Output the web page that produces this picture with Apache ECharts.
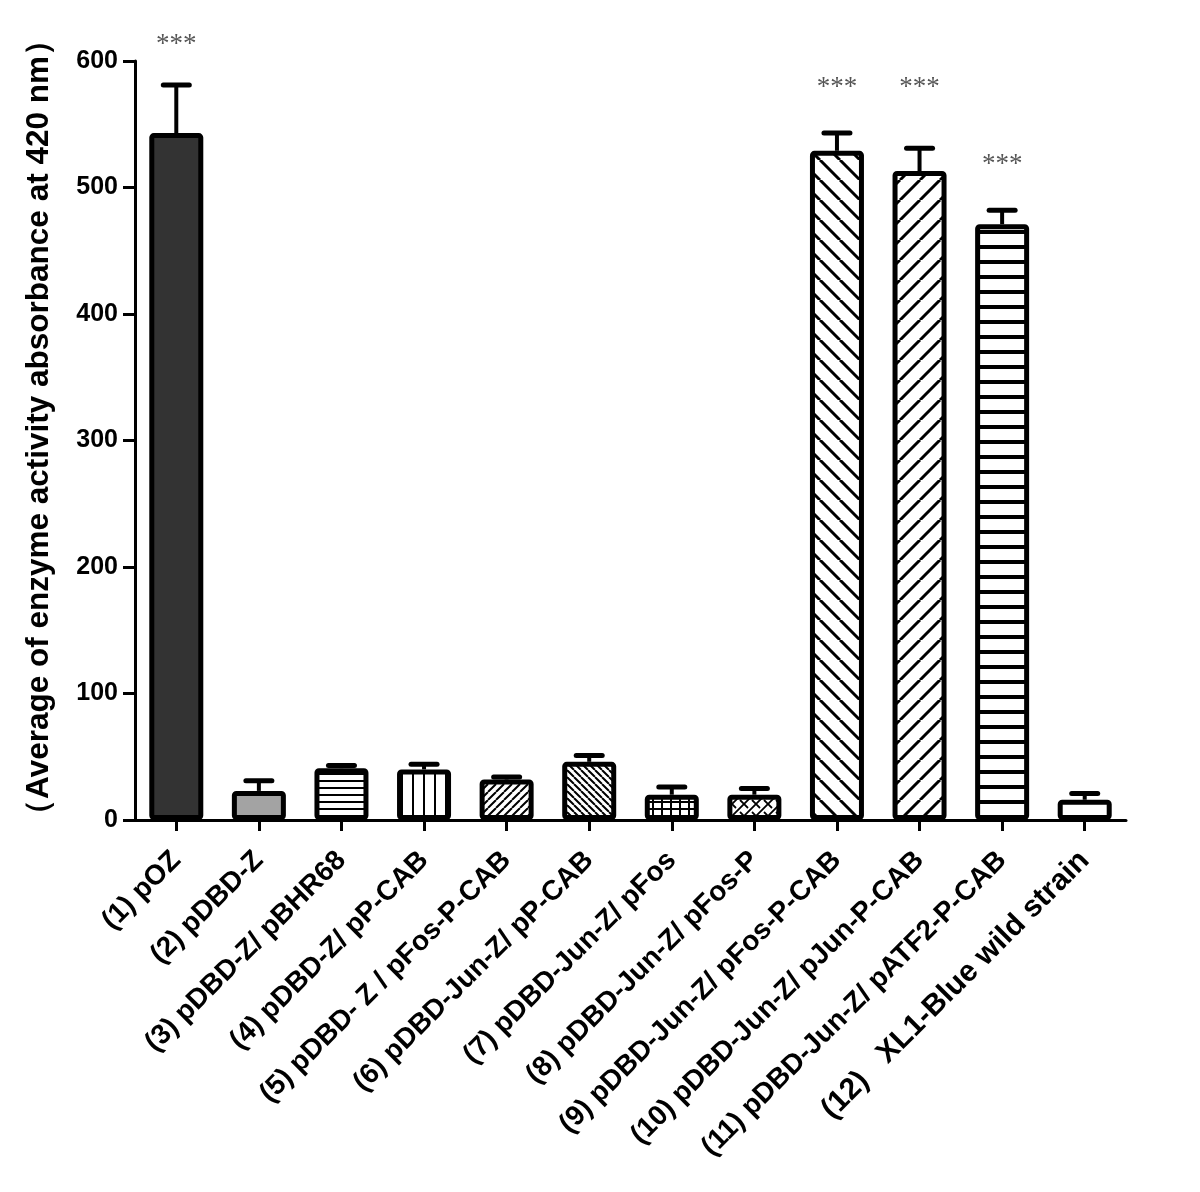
<!DOCTYPE html>
<html><head><meta charset="utf-8">
<script src="https://cdn.jsdelivr.net/npm/echarts@6/dist/echarts.min.js"></script>
<style>html,body{margin:0;padding:0;background:#fff}#c{width:1200px;height:1192px}</style>
</head><body><div id="c"></div>
<script>
const categories = ['(1) pOZ','(2) pDBD-Z','(3) pDBD-Z/ pBHR68','(4) pDBD-Z/ pP-CAB','(5) pDBD- Z / pFos-P-CAB','(6) pDBD-Jun-Z/ pP-CAB','(7) pDBD-Jun-Z/ pFos','(8) pDBD-Jun-Z/ pFos-P','(9) pDBD-Jun-Z/ pFos-P-CAB','(10) pDBD-Jun-Z/ pJun-P-CAB','(11) pDBD-Jun-Z/ pATF2-P-CAB','(12)   XL1-Blue wild strain'];
const means = [543, 23, 41, 40, 32, 46, 20, 20, 529, 513, 471, 16];
const errors = [38, 8, 2, 4, 2, 5, 6, 5, 14, 18, 11, 5];
const sigLabels = ['***','','','','','','','','***','***','***',''];
const sigY = [616, null, null, null, null, null, null, null, 582, 582, 521, null];
const yMin = 0, yMax = 600, yStep = 100;
const yTitle = '（Average of enzyme activity absorbance at 420 nm）';
const fills = ['dark','gray','hthin','vlines','diagUpThin','diagDownThin','grid','brick','diagDownWide','diagUpWide','hthick','white'];

function tile(w, h, draw) {
  const c = document.createElement('canvas');
  c.width = w; c.height = h;
  const g = c.getContext('2d');
  g.fillStyle = '#fff'; g.fillRect(0, 0, w, h);
  g.fillStyle = '#000'; g.strokeStyle = '#000';
  draw(g, w, h);
  return { image: c, repeat: 'repeat' };
}
function diag(up, s, lw) {
  return tile(s, s, (g) => {
    g.lineWidth = lw; g.beginPath();
    for (let k = -1; k <= 1; k++) {
      if (up) { g.moveTo(k * s, s); g.lineTo(k * s + s, 0); }
      else { g.moveTo(k * s, 0); g.lineTo(k * s + s, s); }
    }
    g.stroke();
  });
}
const patterns = {
  dark: '#333333',
  gray: '#a3a3a3',
  white: '#ffffff',
  hthin: tile(8, 7, (g) => g.fillRect(0, 3, 8, 2)),
  vlines: tile(11, 8, (g) => g.fillRect(5, 0, 2, 8)),
  diagUpThin: diag(true, 8, 2),
  diagDownThin: diag(false, 7, 2),
  diagDownWide: diag(false, 20, 3),
  diagUpWide: diag(true, 20, 3),
  hthick: tile(8, 15, (g) => g.fillRect(0, 5, 8, 4)),
  grid: tile(9, 7, (g) => { g.fillRect(4, 0, 2, 7); g.fillRect(0, 3, 9, 2); }),
  brick: tile(12, 12, (g) => {
    g.lineWidth = 1.8; g.beginPath();
    for (let k = -1; k <= 1; k++) { g.moveTo(k * 12, 12); g.lineTo(k * 12 + 12, 0); }
    g.moveTo(0, 0); g.lineTo(4, 4);
    g.moveTo(8, 8); g.lineTo(12, 12);
    g.stroke();
  })
};

const xData = categories.map((c, i) => i === categories.length - 1 ? { value: c, textStyle: { fontSize: 30 } } : c);

const chart = echarts.init(document.getElementById('c'), null, { renderer: 'canvas' });
const option = {
  backgroundColor: '#fff',
  animation: false,
  grid: { left: 135, right: 74, top: 61, bottom: 372, containLabel: false },
  xAxis: {
    type: 'category', data: xData, boundaryGap: true,
    axisLine: { lineStyle: { color: '#000', width: 3 } },
    axisTick: { show: true, alignWithLabel: true, length: 11, lineStyle: { color: '#000', width: 3 } },
    axisLabel: { interval: 0, rotate: 45, margin: 36, color: '#000', fontSize: 28, fontWeight: 'bold', fontFamily: 'Liberation Sans, Arial, sans-serif' }
  },
  yAxis: {
    type: 'value', min: yMin, max: yMax, interval: yStep,
    name: yTitle, nameLocation: 'middle', nameRotate: 90, nameGap: 80,
    nameTextStyle: { fontSize: 31.5, fontWeight: 'bold', color: '#000', padding: [0, 0, 0, 26], fontFamily: 'Liberation Sans Narrow, Arial Narrow, sans-serif' },
    axisLine: { show: true, lineStyle: { color: '#000', width: 3 } },
    axisTick: { show: true, length: 12, lineStyle: { color: '#000', width: 3 } },
    splitLine: { show: false },
    axisLabel: { margin: 17, color: '#000', fontSize: 25, fontWeight: 'bold', fontFamily: 'Liberation Sans, Arial, sans-serif' }
  },
  series: [
    {
      type: 'custom', z: 1,
      data: categories.map((c, i) => [i, means[i], errors[i]]),
      encode: { x: 0, y: 1 },
      renderItem: function (params, api) {
        const x = api.value(0), m = api.value(1), e = api.value(2);
        const top = api.coord([x, m + e]);
        const base = api.coord([x, m]);
        return {
          type: 'group', children: [
            { type: 'line', shape: { x1: top[0], y1: top[1], x2: base[0], y2: base[1] }, style: { stroke: '#000', lineWidth: 4 } },
            { type: 'line', shape: { x1: top[0] - 13, y1: top[1], x2: top[0] + 13, y2: top[1] }, style: { stroke: '#000', lineWidth: 5, lineCap: 'round' } }
          ]
        };
      }
    },
    {
      type: 'bar', z: 2, barWidth: 54,
      data: means.map((v, i) => ({ value: v, itemStyle: { color: patterns[fills[i]] } })),
      itemStyle: { borderColor: '#000', borderWidth: 5, borderRadius: 2 }
    },
    {
      type: 'scatter', z: 3, symbolSize: 2, clip: false, itemStyle: { color: 'rgba(0,0,0,0)' },
      data: sigY,
      label: {
        show: true, position: 'inside', color: '#2a2a2a', offset: [0, 4],
        fontSize: 27, fontFamily: 'Liberation Serif, Times New Roman, serif',
        formatter: (p) => sigLabels[p.dataIndex]
      }
    }
  ]
};
chart.setOption(option);
</script>
</body></html>
